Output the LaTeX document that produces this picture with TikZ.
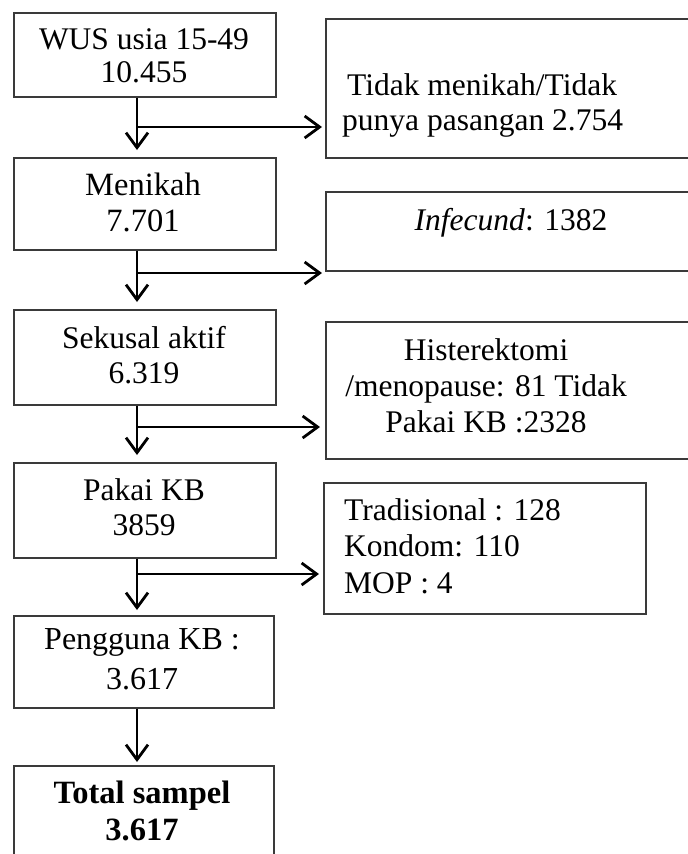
\documentclass[tikz,border=0pt]{standalone}
\usepackage{fontspec}
\setmainfont{Liberation Serif}
\usetikzlibrary{arrows.meta}
\definecolor{boxgray}{HTML}{3A3A3A}
\begin{document}
\begin{tikzpicture}[x=1pt,y=-1pt,
  box/.style={draw=boxgray,line width=1.6pt,inner sep=0pt,anchor=north west},
  txt/.style={font=\fontsize{31.5}{35}\selectfont,align=center,inner sep=0pt},
  txtl/.style={font=\fontsize{31.5}{35}\selectfont,align=left,inner sep=0pt,anchor=west},
  arr/.style={line width=2.8pt,-{Straight Barb[length=15pt,width=22pt,line width=2.8pt]}},
]
\useasboundingbox (0,0) rectangle (688,854);
\clip (0,0) rectangle (688,854);

% main column boxes
\node[box,minimum width=262pt,minimum height=84pt]  (L1) at (13,12)  {};
\node[box,minimum width=262pt,minimum height=92pt]  (L2) at (13,157) {};
\node[box,minimum width=262pt,minimum height=95pt]  (L3) at (13,309) {};
\node[box,minimum width=262pt,minimum height=95pt]  (L4) at (13,462) {};
\node[box,minimum width=260pt,minimum height=92pt]  (L5) at (13,615) {};
\node[box,minimum width=260pt,minimum height=110pt] (L6) at (13,765) {};

% side boxes
\node[box,minimum width=380pt,minimum height=139pt] (R1) at (325,18)  {};
\node[box,minimum width=380pt,minimum height=79pt]  (R2) at (325,191) {};
\node[box,minimum width=380pt,minimum height=137pt] (R3) at (325,321) {};
\node[box,minimum width=322pt,minimum height=131pt] (R4) at (323,482) {};

% texts
\node[txt,font=\fontsize{31.5}{33}\selectfont] (t1) at (144,55.8)  {WUS usia 15-49\\10.455};
\node[txt,font=\fontsize{32.5}{36}\selectfont] (t2) at (143,202) {Menikah\\7.701};
\node[txt] (t3) at (144,354.8) {Sekusal aktif\\6.319};
\node[txt] (t4) at (144,506.8) {Pakai KB\\3859};
\node[txt,font=\fontsize{32}{40}\selectfont] (t5) at (142,659) {Pengguna KB :\\3.617};
\node[txt,font=\fontsize{32.5}{37}\selectfont\bfseries] (t6) at (142,810.8) {Total sampel\\3.617};

\node[txtl] (r1t) at (342,105.2) {\hspace{5pt}Tidak menikah/Tidak\\punya pasangan 2.754};
\node[txt,anchor=base] (r2t) at (511,230) {\textit{Infecund}: 1382};
\node[txt,font=\fontsize{31.5}{36}\selectfont] (r3t) at (486,385.3) {Histerektomi\\/menopause: 81 Tidak\\Pakai KB :2328};
\node[txtl,font=\fontsize{31.5}{36.5}\selectfont] (r4t) at (344,545.8) {Tradisional : 128\\Kondom: 110\\MOP : 4};

% spine and branch points
\coordinate (spine) at (137,0);
\coordinate (b1) at (137,127);
\coordinate (b2) at (137,273);
\coordinate (b3) at (137,427);
\coordinate (b4) at (137,574);

% vertical arrows
\draw[arr,shorten >=7pt] (spine |- L1.south) -- (spine |- L2.north);
\draw[arr,shorten >=7pt] (spine |- L2.south) -- (spine |- L3.north);
\draw[arr,shorten >=7pt] (spine |- L3.south) -- (spine |- L4.north);
\draw[arr,shorten >=5pt] (spine |- L4.south) -- (spine |- L5.north);
\draw[arr,shorten >=3pt] (spine |- L5.south) -- (spine |- L6.north);

% side arrows
\draw[arr,shorten >=3pt] (b1) -- (b1 -| R1.west);
\draw[arr,shorten >=3pt] (b2) -- (b2 -| R2.west);
\draw[arr,shorten >=5pt] (b3) -- (b3 -| R3.west);
\draw[arr,shorten >=4pt] (b4) -- (b4 -| R4.west);
\end{tikzpicture}
\end{document}
